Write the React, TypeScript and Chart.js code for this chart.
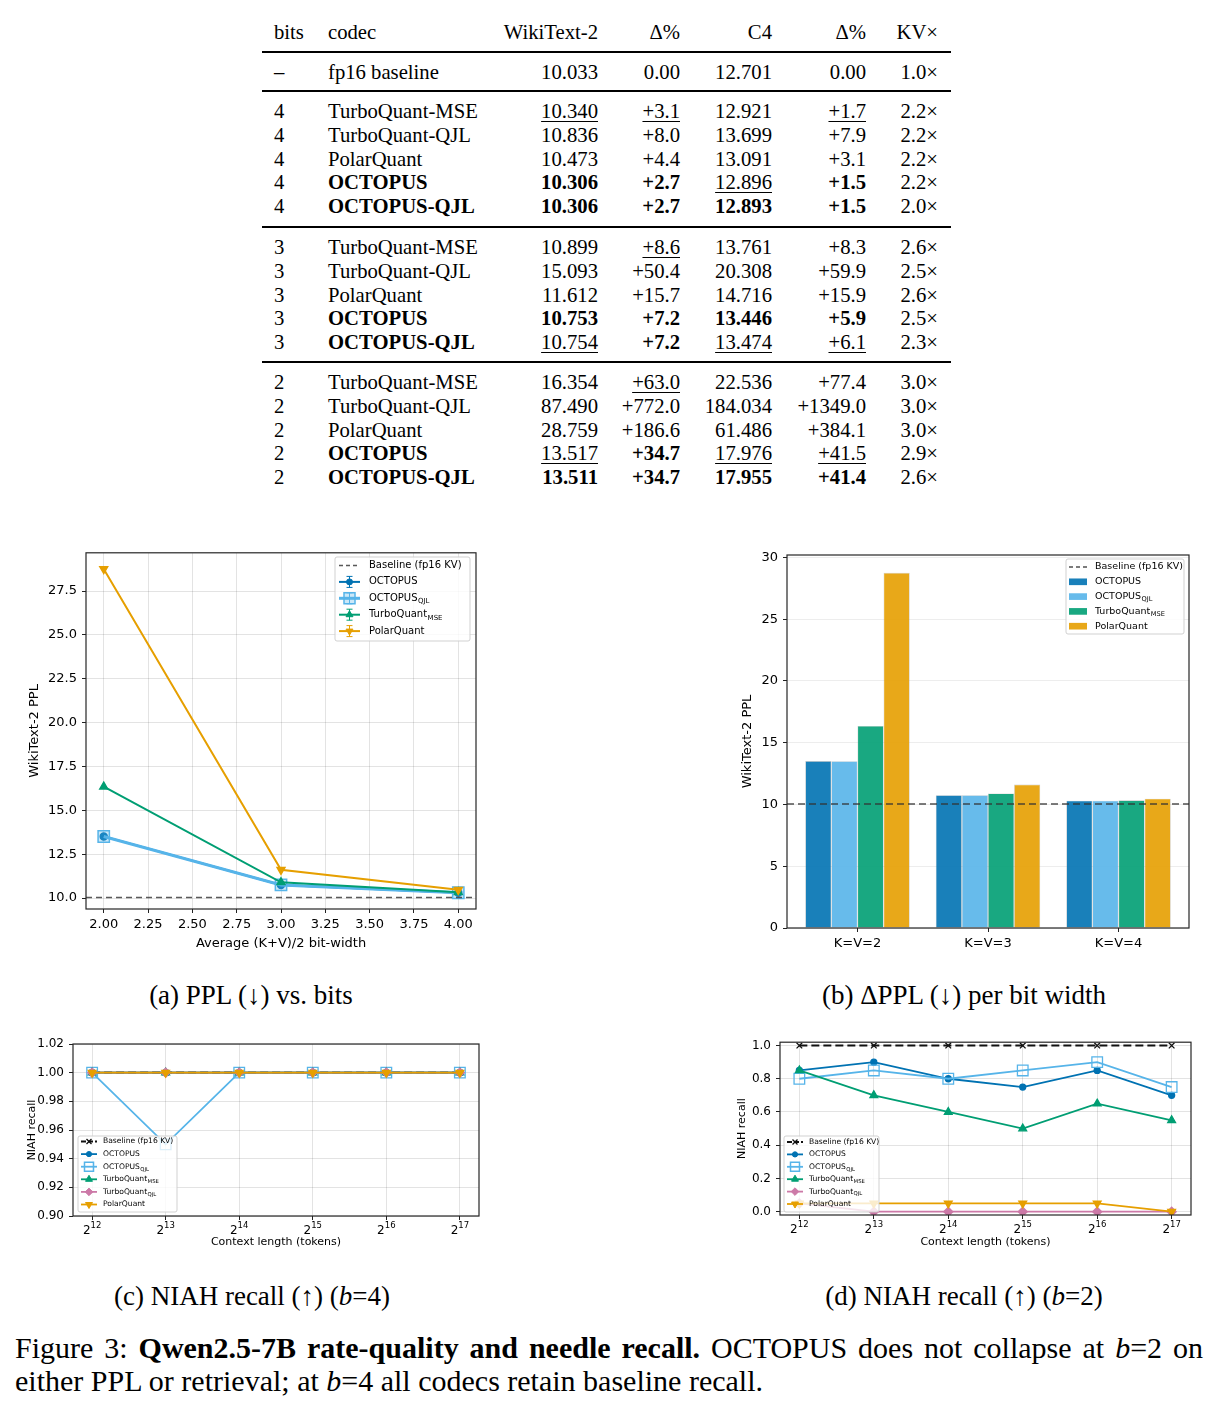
import React, { useEffect, useRef } from 'react';
import { Chart, registerables } from 'chart.js';

Chart.register(...registerables);

const SERIF = '"Liberation Serif", "Times New Roman", Times, serif';
const SANS = '"DejaVu Sans", Verdana, sans-serif';

// Okabe–Ito palette
const C_OCTO = '#0072B2';
const C_OCTO_QJL = '#56B4E9';
const C_TQ_MSE = '#009E73';
const C_TQ_QJL = '#CC79A7';
const C_POLAR = '#E69F00';
const GRID = 'rgba(0,0,0,0.11)';

// ---------------- Table (prefix '*' = bold, '_' = underlined) ----------------
const TABLE_HEADER = ['bits', 'codec', 'WikiText-2', 'Δ%', 'C4', 'Δ%', 'KV×'];
const TABLE_FP16 = ['–', 'fp16 baseline', '10.033', '0.00', '12.701', '0.00', '1.0×'];
const TABLE_B4 = [
  ['4', 'TurboQuant-MSE', '_10.340', '_+3.1', '12.921', '_+1.7', '2.2×'],
  ['4', 'TurboQuant-QJL', '10.836', '+8.0', '13.699', '+7.9', '2.2×'],
  ['4', 'PolarQuant', '10.473', '+4.4', '13.091', '+3.1', '2.2×'],
  ['4', '*OCTOPUS', '*10.306', '*+2.7', '_12.896', '*+1.5', '2.2×'],
  ['4', '*OCTOPUS-QJL', '*10.306', '*+2.7', '*12.893', '*+1.5', '2.0×'],
];
const TABLE_B3 = [
  ['3', 'TurboQuant-MSE', '10.899', '_+8.6', '13.761', '+8.3', '2.6×'],
  ['3', 'TurboQuant-QJL', '15.093', '+50.4', '20.308', '+59.9', '2.5×'],
  ['3', 'PolarQuant', '11.612', '+15.7', '14.716', '+15.9', '2.6×'],
  ['3', '*OCTOPUS', '*10.753', '*+7.2', '*13.446', '*+5.9', '2.5×'],
  ['3', '*OCTOPUS-QJL', '_10.754', '*+7.2', '_13.474', '_+6.1', '2.3×'],
];
const TABLE_B2 = [
  ['2', 'TurboQuant-MSE', '16.354', '_+63.0', '22.536', '+77.4', '3.0×'],
  ['2', 'TurboQuant-QJL', '87.490', '+772.0', '184.034', '+1349.0', '3.0×'],
  ['2', 'PolarQuant', '28.759', '+186.6', '61.486', '+384.1', '3.0×'],
  ['2', '*OCTOPUS', '_13.517', '*+34.7', '_17.976', '_+41.5', '2.9×'],
  ['2', '*OCTOPUS-QJL', '*13.511', '*+34.7', '*17.955', '*+41.4', '2.6×'],
];

// ---------------- (a) PPL vs. bits ----------------
const BIT_WIDTHS = [2, 3, 4];
const BASELINE_PPL = 10.033;
const PPL_OCTOPUS = [13.517, 10.753, 10.306];
const PPL_OCTOPUS_QJL = [13.511, 10.754, 10.306];
const PPL_TQ_MSE = [16.354, 10.899, 10.34];
const PPL_POLAR = [28.759, 11.612, 10.473];
const PPL_TICKS_X = [2, 2.25, 2.5, 2.75, 3, 3.25, 3.5, 3.75, 4];
const PPL_TICKS_Y = [10, 12.5, 15, 17.5, 20, 22.5, 25, 27.5];

// ---------------- (b) PPL per bit width ----------------
const BAR_CATEGORIES = ['K=V=2', 'K=V=3', 'K=V=4'];
const BAR_TICKS_Y = [0, 5, 10, 15, 20, 25, 30];

// ---------------- (c) / (d) NIAH recall ----------------
const CONTEXT_LOG2 = [12, 13, 14, 15, 16, 17];
const NIAH_B4_BASELINE = [1, 1, 1, 1, 1, 1];
const NIAH_B4_OCTOPUS = [1, 1, 1, 1, 1, 1];
const NIAH_B4_OCTOPUS_QJL = [1, 0.95, 1, 1, 1, 1];
const NIAH_B4_TQ_MSE = [1, 1, 1, 1, 1, 1];
const NIAH_B4_TQ_QJL = [1, 1, 1, 1, 1, 1];
const NIAH_B4_POLAR = [1, 1, 1, 1, 1, 1];
const NIAH_B4_TICKS_Y = [0.9, 0.92, 0.94, 0.96, 0.98, 1.0, 1.02];

const NIAH_B2_BASELINE = [1, 1, 1, 1, 1, 1];
const NIAH_B2_OCTOPUS = [0.85, 0.9, 0.8, 0.75, 0.85, 0.7];
const NIAH_B2_OCTOPUS_QJL = [0.8, 0.85, 0.8, 0.85, 0.9, 0.75];
const NIAH_B2_TQ_MSE = [0.85, 0.7, 0.6, 0.5, 0.65, 0.55];
const NIAH_B2_TQ_QJL = [0.05, 0, 0, 0, 0, 0];
const NIAH_B2_POLAR = [0.05, 0.05, 0.05, 0.05, 0.05, 0];
const NIAH_B2_TICKS_Y = [0, 0.2, 0.4, 0.6, 0.8, 1.0];

// ---------------- drawing helpers ----------------
type MarkerKind = 'circle' | 'square' | 'triangle' | 'triangleDown' | 'diamond' | 'cross';

function drawMarker(ctx: CanvasRenderingContext2D, kind: MarkerKind, x: number, y: number, r: number, color: string, fill?: string) {
  ctx.save();
  ctx.setLineDash([]);
  ctx.strokeStyle = color;
  ctx.fillStyle = fill ?? color;
  ctx.lineWidth = kind === 'square' ? 1.5 : 1;
  ctx.beginPath();
  if (kind === 'circle') ctx.arc(x, y, r, 0, Math.PI * 2);
  else if (kind === 'square') ctx.rect(x - r, y - r, 2 * r, 2 * r);
  else if (kind === 'triangle') {
    ctx.moveTo(x, y - r); ctx.lineTo(x + r * 0.866, y + r * 0.5); ctx.lineTo(x - r * 0.866, y + r * 0.5); ctx.closePath();
  } else if (kind === 'triangleDown') {
    ctx.moveTo(x, y + r); ctx.lineTo(x + r * 0.866, y - r * 0.5); ctx.lineTo(x - r * 0.866, y - r * 0.5); ctx.closePath();
  } else if (kind === 'diamond') {
    ctx.moveTo(x, y - r); ctx.lineTo(x + r, y); ctx.lineTo(x, y + r); ctx.lineTo(x - r, y); ctx.closePath();
  } else {
    ctx.lineWidth = 1.3;
    ctx.moveTo(x - r, y - r); ctx.lineTo(x + r, y + r); ctx.moveTo(x + r, y - r); ctx.lineTo(x - r, y + r);
    ctx.stroke(); ctx.restore(); return;
  }
  if (fill !== 'none') ctx.fill();
  ctx.stroke();
  ctx.restore();
}

interface LegendEntry {
  label: string; sub?: string; color: string; kind: 'line' | 'patch';
  dash?: number[]; width?: number; marker?: MarkerKind; markerR?: number; markerFill?: string; errorbar?: boolean;
}
interface LegendBox {
  x: number; y: number; w: number; h: number; firstY: number; rowH: number;
  h0: number; h1: number; tx: number; font: number; entries: LegendEntry[];
}

function legendPlugin(box: LegendBox) {
  return {
    id: 'figLegend',
    afterDraw(chart: any) {
      const ctx: CanvasRenderingContext2D = chart.ctx;
      ctx.save();
      const { x, y, w, h } = box;
      const rr = 2;
      ctx.beginPath();
      ctx.moveTo(x + rr, y); ctx.lineTo(x + w - rr, y); ctx.quadraticCurveTo(x + w, y, x + w, y + rr);
      ctx.lineTo(x + w, y + h - rr); ctx.quadraticCurveTo(x + w, y + h, x + w - rr, y + h);
      ctx.lineTo(x + rr, y + h); ctx.quadraticCurveTo(x, y + h, x, y + h - rr);
      ctx.lineTo(x, y + rr); ctx.quadraticCurveTo(x, y, x + rr, y); ctx.closePath();
      ctx.fillStyle = 'rgba(255,255,255,0.8)';
      ctx.fill();
      ctx.strokeStyle = 'rgba(204,204,204,0.9)';
      ctx.lineWidth = 1;
      ctx.stroke();
      box.entries.forEach((e, i) => {
        const cy = box.firstY + i * box.rowH;
        const mid = (box.h0 + box.h1) / 2;
        if (e.kind === 'patch') {
          ctx.fillStyle = e.color;
          ctx.fillRect(box.h0, cy - box.font * 0.35, box.h1 - box.h0, box.font * 0.7);
        } else {
          ctx.strokeStyle = e.color;
          ctx.lineWidth = e.width ?? 1.5;
          ctx.setLineDash(e.dash ?? []);
          ctx.beginPath(); ctx.moveTo(box.h0, cy); ctx.lineTo(box.h1, cy); ctx.stroke();
          ctx.setLineDash([]);
          if (e.errorbar) {
            const eh = box.font * 0.55, cw = box.font * 0.3;
            ctx.lineWidth = 1;
            ctx.beginPath();
            ctx.moveTo(mid, cy - eh); ctx.lineTo(mid, cy + eh);
            ctx.moveTo(mid - cw, cy - eh); ctx.lineTo(mid + cw, cy - eh);
            ctx.moveTo(mid - cw, cy + eh); ctx.lineTo(mid + cw, cy + eh);
            ctx.stroke();
          }
          if (e.marker) drawMarker(ctx, e.marker, mid, cy, e.markerR ?? 3, e.color, e.markerFill);
        }
        ctx.fillStyle = '#000';
        ctx.font = `${box.font}px ${SANS}`;
        ctx.textBaseline = 'middle';
        ctx.textAlign = 'left';
        ctx.fillText(e.label, box.tx, cy);
        if (e.sub) {
          const lw = ctx.measureText(e.label).width;
          ctx.font = `${box.font * 0.7}px ${SANS}`;
          ctx.fillText(e.sub, box.tx + lw + 0.5, cy + box.font * 0.32);
        }
      });
      ctx.restore();
    },
  };
}

const framePlugin = {
  id: 'axesFrame',
  afterDatasetsDraw(chart: any) {
    const { ctx, chartArea } = chart;
    ctx.save();
    ctx.strokeStyle = '#262626';
    ctx.lineWidth = 1.2;
    ctx.strokeRect(chartArea.left, chartArea.top, chartArea.right - chartArea.left, chartArea.bottom - chartArea.top);
    ctx.restore();
  },
};

function baselineRulePlugin(value: number, color: string, width: number, dash: number[]) {
  return {
    id: 'baselineRule',
    afterDatasetsDraw(chart: any) {
      const { ctx, chartArea } = chart;
      const y = chart.scales.y.getPixelForValue(value);
      ctx.save();
      ctx.strokeStyle = color;
      ctx.lineWidth = width;
      ctx.setLineDash(dash);
      ctx.beginPath(); ctx.moveTo(chartArea.left, y); ctx.lineTo(chartArea.right, y); ctx.stroke();
      ctx.restore();
    },
  };
}

// "2^n" tick labels with a raised exponent, placed under each x tick
function pow2TickPlugin(size: number) {
  return {
    id: 'pow2Ticks',
    afterDraw(chart: any) {
      const { ctx, chartArea } = chart;
      const sx = chart.scales.x;
      const baseY = chartArea.bottom + 17.5;
      const expSize = size * 0.71;
      ctx.save();
      ctx.fillStyle = '#000';
      ctx.textBaseline = 'alphabetic';
      ctx.textAlign = 'left';
      CONTEXT_LOG2.forEach((e) => {
        const px = sx.getPixelForValue(e);
        const exp = String(e);
        ctx.font = `${size}px ${SANS}`;
        const wb = ctx.measureText('2').width;
        ctx.font = `${expSize}px ${SANS}`;
        const we = ctx.measureText(exp).width;
        const x0 = px - (wb + we) / 2;
        ctx.font = `${size}px ${SANS}`;
        ctx.fillText('2', x0, baseY);
        ctx.font = `${expSize}px ${SANS}`;
        ctx.fillText(exp, x0 + wb, baseY - size * 0.5);
      });
      ctx.restore();
    },
  };
}

function fixedTicks(values: number[]) {
  return (scale: any) => { scale.ticks = values.map((v) => ({ value: v })); };
}

// ---------------- chart configs ----------------
function buildPplLine(): any {
  const series = [
    { label: 'OCTOPUS', v: PPL_OCTOPUS, c: C_OCTO, w: 2, ps: 'circle', r: 3.5, bg: C_OCTO, rot: 0 },
    { label: 'OCTOPUS_QJL', v: PPL_OCTOPUS_QJL, c: C_OCTO_QJL, w: 3, ps: 'rect', r: 8, bg: 'rgba(86,180,233,0.3)', rot: 0 },
    { label: 'TurboQuant_MSE', v: PPL_TQ_MSE, c: C_TQ_MSE, w: 2, ps: 'triangle', r: 4.5, bg: C_TQ_MSE, rot: 0 },
    { label: 'PolarQuant', v: PPL_POLAR, c: C_POLAR, w: 2, ps: 'triangle', r: 4.5, bg: C_POLAR, rot: 180 },
  ];
  return {
    type: 'line',
    data: {
      datasets: series.map((s, i) => ({
        label: s.label,
        data: BIT_WIDTHS.map((x, j) => ({ x, y: s.v[j] })),
        borderColor: s.c, backgroundColor: s.bg, borderWidth: s.w,
        pointStyle: s.ps, pointRadius: s.r, pointRotation: s.rot, pointBorderColor: s.c, pointBorderWidth: 1.5,
        pointBackgroundColor: s.bg, tension: 0, order: series.length - i,
      })),
    },
    options: {
      responsive: false, animation: false, events: [],
      layout: { padding: { left: 0, top: 12, right: 14, bottom: 0 } },
      plugins: { legend: { display: false }, tooltip: { enabled: false } },
      scales: {
        x: {
          type: 'linear', min: 1.9, max: 4.1,
          afterBuildTicks: fixedTicks(PPL_TICKS_X),
          afterFit: (s: any) => { s.height = 51; },
          ticks: { callback: (v: number) => v.toFixed(2), color: '#000', font: { family: SANS, size: 13 }, padding: 4, maxRotation: 0, autoSkip: false },
          grid: { color: GRID, tickColor: '#222', tickLength: 4 },
          border: { display: false },
          title: { display: true, text: 'Average (K+V)/2 bit-width', color: '#000', font: { family: SANS, size: 13 }, padding: { top: 0, bottom: 9 } },
        },
        y: {
          type: 'linear', min: 9.38, max: 29.68,
          afterBuildTicks: fixedTicks(PPL_TICKS_Y),
          afterFit: (s: any) => { s.width = 66; },
          ticks: { callback: (v: number) => v.toFixed(1), color: '#000', font: { family: SANS, size: 13 }, padding: 5 },
          grid: { color: GRID, tickColor: '#222', tickLength: 4 },
          border: { display: false },
          title: { display: true, text: 'WikiText-2 PPL', color: '#000', font: { family: SANS, size: 13 }, padding: { top: 7, bottom: 0 } },
        },
      },
    },
    plugins: [
      baselineRulePlugin(BASELINE_PPL, 'rgba(60,60,60,0.85)', 1.5, [6, 4]),
      framePlugin,
      legendPlugin({
        x: 315, y: 17, w: 135, h: 84, firstY: 25.5, rowH: 16.4, h0: 319, h1: 340, tx: 349, font: 10,
        entries: [
          { label: 'Baseline (fp16 KV)', color: 'rgba(60,60,60,0.85)', kind: 'line', dash: [4, 3], width: 1.5 },
          { label: 'OCTOPUS', color: C_OCTO, kind: 'line', width: 2, marker: 'circle', markerR: 3, errorbar: true },
          { label: 'OCTOPUS', sub: 'QJL', color: C_OCTO_QJL, kind: 'line', width: 3, marker: 'square', markerR: 5.5, markerFill: 'rgba(86,180,233,0.3)', errorbar: true },
          { label: 'TurboQuant', sub: 'MSE', color: C_TQ_MSE, kind: 'line', width: 2, marker: 'triangle', markerR: 4, errorbar: true },
          { label: 'PolarQuant', color: C_POLAR, kind: 'line', width: 2, marker: 'triangleDown', markerR: 4, errorbar: true },
        ],
      }),
    ],
  };
}

function buildPplBars(): any {
  const bars = [
    { label: 'OCTOPUS', v: PPL_OCTOPUS, c: 'rgba(0,114,178,0.9)' },
    { label: 'OCTOPUS_QJL', v: PPL_OCTOPUS_QJL, c: 'rgba(86,180,233,0.9)' },
    { label: 'TurboQuant_MSE', v: PPL_TQ_MSE, c: 'rgba(0,158,115,0.9)' },
    { label: 'PolarQuant', v: PPL_POLAR, c: 'rgba(230,159,0,0.9)' },
  ];
  return {
    type: 'bar',
    data: {
      datasets: bars.map((b) => ({
        label: b.label,
        data: BAR_CATEGORIES.map((_, j) => ({ x: j, y: b.v[j] })),
        backgroundColor: b.c, borderColor: 'rgba(150,150,150,0.55)', borderWidth: 0.6,
        categoryPercentage: 0.8, barPercentage: 1,
      })),
    },
    options: {
      responsive: false, animation: false, events: [],
      layout: { padding: { left: 0, top: 15, right: 11, bottom: 0 } },
      plugins: { legend: { display: false }, tooltip: { enabled: false } },
      scales: {
        x: {
          type: 'linear', min: -0.54, max: 2.54, offset: false,
          afterBuildTicks: fixedTicks(BAR_CATEGORIES.map((_, j) => j)),
          afterFit: (s: any) => { s.height = 32; },
          ticks: { callback: (v: number) => BAR_CATEGORIES[v] ?? '', color: '#000', font: { family: SANS, size: 13 }, padding: 4, maxRotation: 0, autoSkip: false },
          grid: { drawOnChartArea: false, offset: false, tickColor: '#222', tickLength: 4 },
          border: { display: false },
        },
        y: {
          type: 'linear', min: 0, max: 30.2,
          afterBuildTicks: fixedTicks(BAR_TICKS_Y),
          afterFit: (s: any) => { s.width = 57; },
          ticks: { callback: (v: number) => String(v), color: '#000', font: { family: SANS, size: 13 }, padding: 5 },
          grid: { color: 'rgba(0,0,0,0.07)', tickColor: '#222', tickLength: 4 },
          border: { display: false },
          title: { display: true, text: 'WikiText-2 PPL', color: '#000', font: { family: SANS, size: 13 }, padding: { top: 10, bottom: 0 } },
        },
      },
    },
    plugins: [
      baselineRulePlugin(BASELINE_PPL, 'rgba(50,50,50,0.85)', 1.5, [7, 4]),
      framePlugin,
      legendPlugin({
        x: 336, y: 19, w: 118, h: 75, firstY: 27, rowH: 14.8, h0: 339, h1: 357, tx: 365, font: 9.5,
        entries: [
          { label: 'Baseline (fp16 KV)', color: 'rgba(50,50,50,0.85)', kind: 'line', dash: [4, 3], width: 1.3 },
          { label: 'OCTOPUS', color: 'rgba(0,114,178,0.9)', kind: 'patch' },
          { label: 'OCTOPUS', sub: 'QJL', color: 'rgba(86,180,233,0.9)', kind: 'patch' },
          { label: 'TurboQuant', sub: 'MSE', color: 'rgba(0,158,115,0.9)', kind: 'patch' },
          { label: 'PolarQuant', color: 'rgba(230,159,0,0.9)', kind: 'patch' },
        ],
      }),
    ],
  };
}

function buildNiah(
  values: number[][], yMin: number, yMax: number, yTicks: number[], yDecimals: number,
  pad: { top: number; right: number }, yWidth: number, xHeight: number, legend: { x: number; y: number; w: number; h: number; firstY: number; rowH: number; h0: number; h1: number; tx: number },
): any {
  const styles = [
    { label: 'Baseline (fp16 KV)', c: '#111111', w: 2.2, ps: 'crossRot', r: 4, bg: '#111111', rot: 0, dash: [8, 4] },
    { label: 'OCTOPUS', c: C_OCTO, w: 1.8, ps: 'circle', r: 3, bg: C_OCTO, rot: 0, dash: [] },
    { label: 'OCTOPUS_QJL', c: C_OCTO_QJL, w: 1.8, ps: 'rect', r: 7.5, bg: 'rgba(0,0,0,0)', rot: 0, dash: [] },
    { label: 'TurboQuant_MSE', c: C_TQ_MSE, w: 1.8, ps: 'triangle', r: 4.5, bg: C_TQ_MSE, rot: 0, dash: [] },
    { label: 'TurboQuant_QJL', c: C_TQ_QJL, w: 1.8, ps: 'rectRot', r: 4.5, bg: C_TQ_QJL, rot: 0, dash: [] },
    { label: 'PolarQuant', c: C_POLAR, w: 1.8, ps: 'triangle', r: 4.5, bg: C_POLAR, rot: 180, dash: [] },
  ];
  return {
    type: 'line',
    data: {
      datasets: styles.map((s, i) => ({
        label: s.label,
        data: CONTEXT_LOG2.map((x, j) => ({ x, y: values[i][j] })),
        borderColor: s.c, backgroundColor: s.bg, borderWidth: s.w, borderDash: s.dash,
        pointStyle: s.ps, pointRadius: s.r, pointRotation: s.rot, pointBorderColor: s.c, pointBorderWidth: 1.3,
        pointBackgroundColor: s.bg, tension: 0, order: styles.length - i,
      })),
    },
    options: {
      responsive: false, animation: false, events: [],
      layout: { padding: { left: 0, top: pad.top, right: pad.right, bottom: 0 } },
      plugins: { legend: { display: false }, tooltip: { enabled: false } },
      scales: {
        x: {
          type: 'linear', min: 11.74, max: 17.26,
          afterBuildTicks: fixedTicks(CONTEXT_LOG2),
          afterFit: (s: any) => { s.height = xHeight; },
          ticks: { callback: () => '', maxRotation: 0, autoSkip: false },
          grid: { color: GRID, tickColor: '#222', tickLength: 4 },
          border: { display: false },
          title: { display: true, text: 'Context length (tokens)', color: '#000', font: { family: SANS, size: 11 }, padding: { top: 0, bottom: 11 } },
        },
        y: {
          type: 'linear', min: yMin, max: yMax,
          afterBuildTicks: fixedTicks(yTicks),
          afterFit: (s: any) => { s.width = yWidth; },
          ticks: { callback: (v: number) => v.toFixed(yDecimals), color: '#000', font: { family: SANS, size: 12 }, padding: 5 },
          grid: { color: GRID, tickColor: '#222', tickLength: 4 },
          border: { display: false },
          title: { display: true, text: 'NIAH recall', color: '#000', font: { family: SANS, size: 11 }, padding: { top: 6, bottom: 0 } },
        },
      },
    },
    plugins: [
      framePlugin,
      pow2TickPlugin(12),
      legendPlugin({
        ...legend, font: 7.6,
        entries: [
          { label: 'Baseline (fp16 KV)', color: '#111111', kind: 'line', dash: [5, 2], width: 2, marker: 'cross', markerR: 2.5 },
          { label: 'OCTOPUS', color: C_OCTO, kind: 'line', width: 1.8, marker: 'circle', markerR: 2.6 },
          { label: 'OCTOPUS', sub: 'QJL', color: C_OCTO_QJL, kind: 'line', width: 1.8, marker: 'square', markerR: 4.5, markerFill: 'none' },
          { label: 'TurboQuant', sub: 'MSE', color: C_TQ_MSE, kind: 'line', width: 1.8, marker: 'triangle', markerR: 4 },
          { label: 'TurboQuant', sub: 'QJL', color: C_TQ_QJL, kind: 'line', width: 1.8, marker: 'diamond', markerR: 3.8 },
          { label: 'PolarQuant', color: C_POLAR, kind: 'line', width: 1.8, marker: 'triangleDown', markerR: 4 },
        ],
      }),
    ],
  };
}

const buildNiahB4 = () => buildNiah(
  [NIAH_B4_BASELINE, NIAH_B4_OCTOPUS, NIAH_B4_OCTOPUS_QJL, NIAH_B4_TQ_MSE, NIAH_B4_TQ_QJL, NIAH_B4_POLAR],
  0.9, 1.02, NIAH_B4_TICKS_Y, 2, { top: 14, right: 11 }, 53, 44,
  { x: 58, y: 106, w: 99, h: 76, firstY: 111.5, rowH: 12.6, h0: 61, h1: 77, tx: 83 },
);

const buildNiahB2 = () => buildNiah(
  [NIAH_B2_BASELINE, NIAH_B2_OCTOPUS, NIAH_B2_OCTOPUS_QJL, NIAH_B2_TQ_MSE, NIAH_B2_TQ_QJL, NIAH_B2_POLAR],
  -0.02, 1.02, NIAH_B2_TICKS_Y, 1, { top: 10, right: 9 }, 50, 45,
  { x: 54, y: 106, w: 95, h: 76, firstY: 112, rowH: 12.4, h0: 57, h1: 73, tx: 79 },
);

// ---------------- components ----------------
function ChartCanvas({ left, top, width, height, build }: { left: number; top: number; width: number; height: number; build: () => any }) {
  const ref = useRef<HTMLCanvasElement>(null);
  useEffect(() => {
    const chart = new Chart(ref.current as HTMLCanvasElement, build());
    return () => chart.destroy();
  }, []);
  return (
    <div style={{ position: 'absolute', left, top, width, height }}>
      <canvas ref={ref} width={width} height={height} style={{ display: 'block', width, height }} />
    </div>
  );
}

const COL_LEFT = [274, 328];
const COL_RIGHT = [598, 680, 772, 866, 938];

function TableRow({ cells, cy }: { cells: string[]; cy: number }) {
  return (
    <>
      {cells.map((raw, c) => {
        const bold = raw.startsWith('*');
        const under = raw.startsWith('_');
        const text = bold || under ? raw.slice(1) : raw;
        const style: React.CSSProperties = {
          position: 'absolute', top: cy - 12, height: 24, lineHeight: '24px', whiteSpace: 'nowrap',
          fontWeight: bold ? 'bold' : 'normal',
        };
        if (c < 2) style.left = COL_LEFT[c];
        else { style.left = COL_RIGHT[c - 2] - 160; style.width = 160; style.textAlign = 'right'; }
        return (
          <div key={c} style={style}>
            {under ? <span style={{ textDecoration: 'underline', textUnderlineOffset: '3px', textDecorationThickness: '1px' }}>{text}</span> : text}
          </div>
        );
      })}
    </>
  );
}

function Rule({ y }: { y: number }) {
  return <div style={{ position: 'absolute', left: 262, width: 689, top: y - 0.75, height: 1.5, background: '#000' }} />;
}

const GROUP_STARTS = [111, 247, 382];
const ROW_STEP = 23.8;

export default function App() {
  const groups = [TABLE_B4, TABLE_B3, TABLE_B2];
  return (
    <div style={{ position: 'absolute', left: 0, top: 0, width: 1218, height: 1413, background: '#fff', overflow: 'hidden', color: '#000', fontFamily: SERIF }}>
      <div style={{ fontSize: 20.7 }}>
        <TableRow cells={TABLE_HEADER} cy={32} />
        <Rule y={52} />
        <TableRow cells={TABLE_FP16} cy={72} />
        <Rule y={91} />
        {groups.map((g, gi) => g.map((row, ri) => <TableRow key={`${gi}-${ri}`} cells={row} cy={GROUP_STARTS[gi] + ri * ROW_STEP} />))}
        <Rule y={227} />
        <Rule y={362} />
      </div>

      <ChartCanvas left={20} top={540} width={470} height={420} build={buildPplLine} />
      <ChartCanvas left={730} top={540} width={470} height={420} build={buildPplBars} />
      <ChartCanvas left={20} top={1030} width={470} height={230} build={buildNiahB4} />
      <ChartCanvas left={730} top={1030} width={470} height={230} build={buildNiahB2} />

      <div style={{ position: 'absolute', left: 0, width: 502, top: 979, lineHeight: '32px', fontSize: 27, textAlign: 'center' }}>(a) PPL (↓) vs. bits</div>
      <div style={{ position: 'absolute', left: 728, width: 472, top: 979, lineHeight: '32px', fontSize: 27, textAlign: 'center' }}>(b) ΔPPL (↓) per bit width</div>
      <div style={{ position: 'absolute', left: 0, width: 504, top: 1280, lineHeight: '32px', fontSize: 27, textAlign: 'center' }}>(c) NIAH recall (↑) (<i>b</i>=4)</div>
      <div style={{ position: 'absolute', left: 728, width: 472, top: 1280, lineHeight: '32px', fontSize: 27, textAlign: 'center' }}>(d) NIAH recall (↑) (<i>b</i>=2)</div>

      <div style={{ position: 'absolute', left: 15, width: 1188, top: 1331, lineHeight: '33px', fontSize: 30, textAlign: 'justify', textAlignLast: 'justify', whiteSpace: 'nowrap' }}>
        Figure 3: <b>Qwen2.5-7B rate-quality and needle recall.</b> OCTOPUS does not collapse at <i>b</i>=2 on
      </div>
      <div style={{ position: 'absolute', left: 15, width: 1188, top: 1364, lineHeight: '33px', fontSize: 30, whiteSpace: 'nowrap' }}>
        either PPL or retrieval; at <i>b</i>=4 all codecs retain baseline recall.
      </div>
    </div>
  );
}
